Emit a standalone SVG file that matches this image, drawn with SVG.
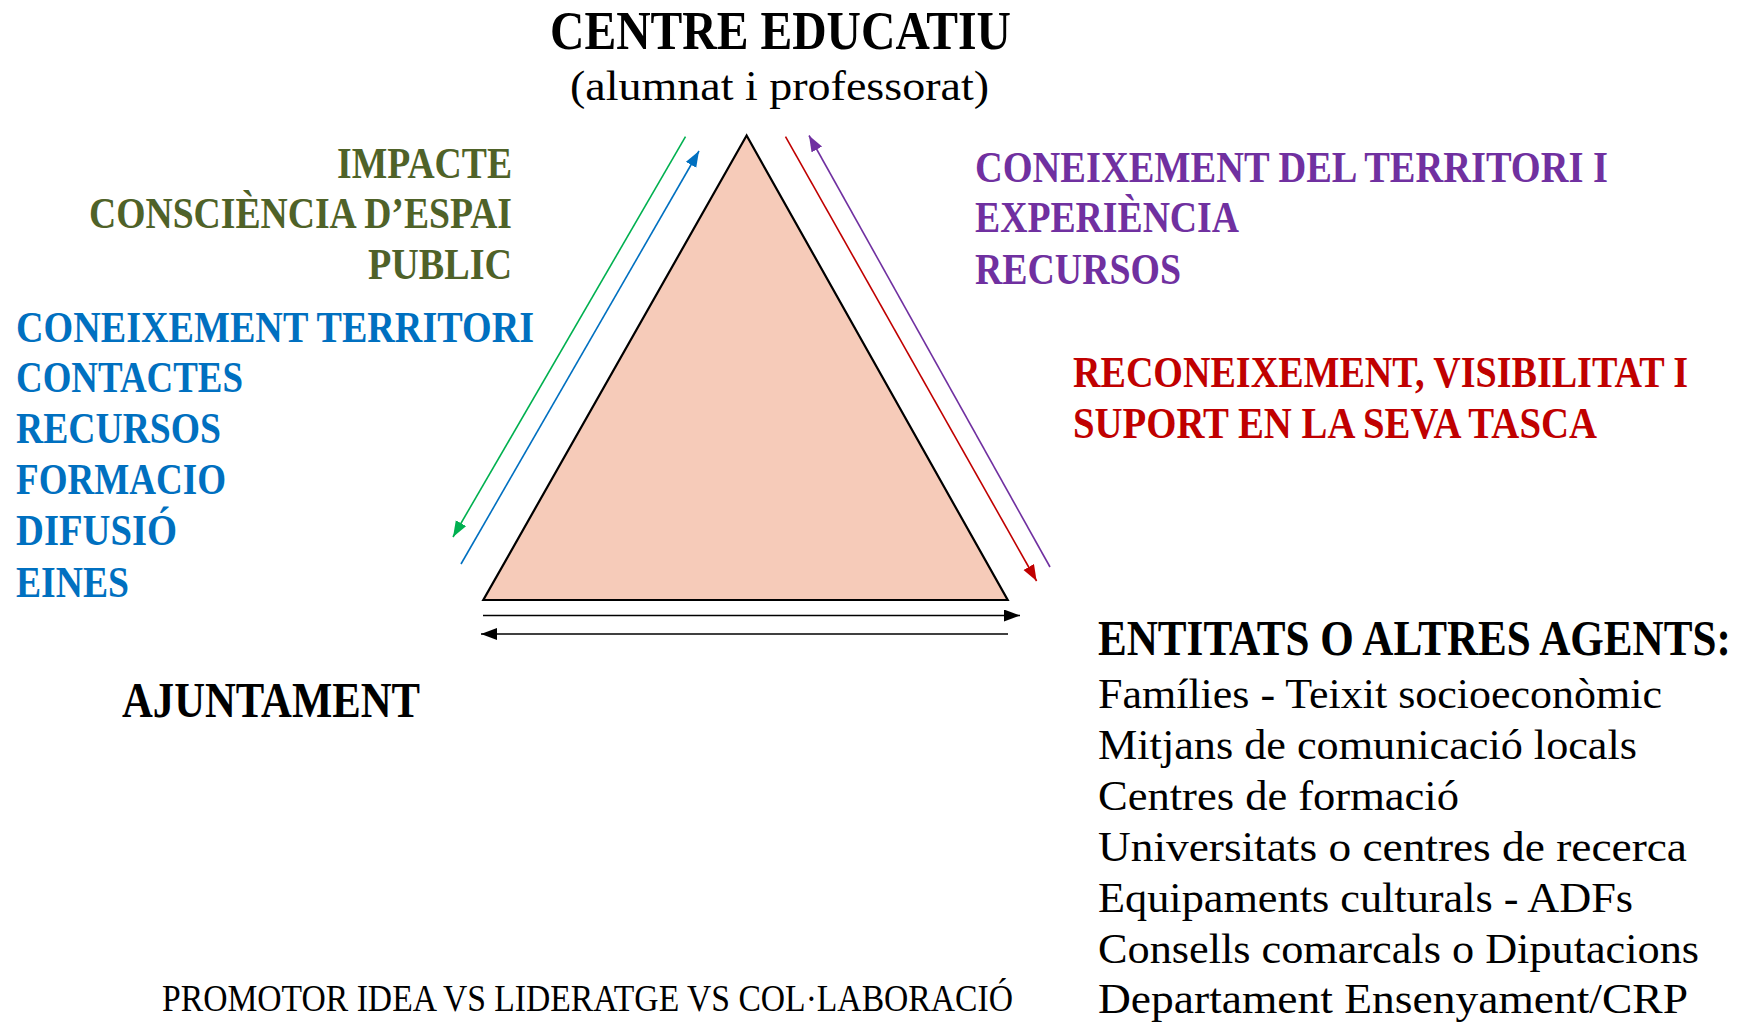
<svg xmlns="http://www.w3.org/2000/svg" width="1742" height="1022" viewBox="0 0 1742 1022">
<defs>
<style>
text{font-family:"Liberation Serif","DejaVu Serif",serif;}
.b{font-weight:bold;}
.title{font-size:54px;fill:#000;}
.sub{font-size:42px;fill:#000;}
.grn{font-size:44px;fill:#4F6228;font-weight:bold;}
.blu{font-size:44px;fill:#0070C0;font-weight:bold;}
.pur{font-size:44px;fill:#7030A0;font-weight:bold;}
.red{font-size:44px;fill:#C00000;font-weight:bold;}
.head{font-size:50px;fill:#000;font-weight:bold;}
.lst{font-size:42px;fill:#000;}
.foot{font-size:38px;fill:#000;}
.ln{fill:none;stroke-width:1.6;}
</style>
<marker id="mGreen" markerUnits="userSpaceOnUse" markerWidth="20" markerHeight="16" refX="16" refY="6" orient="auto"><path d="M0,0 L16,6 L0,12 z" fill="#00B050"/></marker>
<marker id="mBlue" markerUnits="userSpaceOnUse" markerWidth="20" markerHeight="16" refX="16" refY="6" orient="auto"><path d="M0,0 L16,6 L0,12 z" fill="#0070C0"/></marker>
<marker id="mRed" markerUnits="userSpaceOnUse" markerWidth="20" markerHeight="16" refX="16" refY="6" orient="auto"><path d="M0,0 L16,6 L0,12 z" fill="#C00000"/></marker>
<marker id="mPur" markerUnits="userSpaceOnUse" markerWidth="20" markerHeight="16" refX="16" refY="6" orient="auto"><path d="M0,0 L16,6 L0,12 z" fill="#7030A0"/></marker>
<marker id="mBlk" markerUnits="userSpaceOnUse" markerWidth="20" markerHeight="16" refX="16" refY="6" orient="auto"><path d="M0,0 L16,6 L0,12 z" fill="#000"/></marker>
</defs>
<rect x="0" y="0" width="1742" height="1022" fill="#fff"/>

<g id="triangle">
<polygon points="746.6,135.5 483.3,600 1007.7,600" fill="#F6CBB9" stroke="#000" stroke-width="2.2" stroke-linejoin="miter"/>
</g>

<g id="connectors">
<line class="ln" x1="685.5" y1="136.7" x2="453" y2="537" stroke="#00B050" marker-end="url(#mGreen)"/>
<line class="ln" x1="461" y1="564" x2="699" y2="151" stroke="#0070C0" marker-end="url(#mBlue)"/>
<line class="ln" x1="785.5" y1="136.7" x2="1036.6" y2="581" stroke="#C00000" marker-end="url(#mRed)"/>
<line class="ln" x1="1050" y1="567" x2="809" y2="135.5" stroke="#7030A0" marker-end="url(#mPur)"/>
<line class="ln" x1="483" y1="615.5" x2="1020" y2="615.5" stroke="#000" stroke-width="2.2" marker-end="url(#mBlk)"/>
<line class="ln" x1="1008" y1="634" x2="481" y2="634" stroke="#000" stroke-width="2.2" marker-end="url(#mBlk)"/>
</g>

<g id="centre-educatiu">
<text class="title b" x="550" y="49" textLength="461" lengthAdjust="spacingAndGlyphs">CENTRE EDUCATIU</text>
<text class="sub" x="570" y="100" textLength="419" lengthAdjust="spacingAndGlyphs">(alumnat i professorat)</text>
</g>

<g id="impacte">
<text class="grn" x="337" y="178" textLength="175" lengthAdjust="spacingAndGlyphs">IMPACTE</text>
<text class="grn" x="89" y="228" textLength="423" lengthAdjust="spacingAndGlyphs">CONSCIÈNCIA D’ESPAI</text>
<text class="grn" x="368" y="279" textLength="144" lengthAdjust="spacingAndGlyphs">PUBLIC</text>
</g>

<g id="ajuntament-aporta">
<text class="blu" x="16" y="342" textLength="518" lengthAdjust="spacingAndGlyphs">CONEIXEMENT TERRITORI</text>
<text class="blu" x="16" y="392" textLength="227" lengthAdjust="spacingAndGlyphs">CONTACTES</text>
<text class="blu" x="16" y="443" textLength="205" lengthAdjust="spacingAndGlyphs">RECURSOS</text>
<text class="blu" x="16" y="494" textLength="210" lengthAdjust="spacingAndGlyphs">FORMACIO</text>
<text class="blu" x="16" y="545" textLength="161" lengthAdjust="spacingAndGlyphs">DIFUSIÓ</text>
<text class="blu" x="16" y="597" textLength="113" lengthAdjust="spacingAndGlyphs">EINES</text>
</g>

<g id="entitats-aporten">
<text class="pur" x="975" y="182" textLength="633" lengthAdjust="spacingAndGlyphs">CONEIXEMENT DEL TERRITORI I</text>
<text class="pur" x="975" y="232" textLength="264" lengthAdjust="spacingAndGlyphs">EXPERIÈNCIA</text>
<text class="pur" x="975" y="284" textLength="206" lengthAdjust="spacingAndGlyphs">RECURSOS</text>
</g>

<g id="reconeixement">
<text class="red" transform="translate(1073,387) scale(0.8,1)" x="0" y="0" textLength="769" lengthAdjust="spacingAndGlyphs">RECONEIXEMENT, VISIBILITAT I</text>
<text class="red" x="1073" y="438" textLength="524" lengthAdjust="spacingAndGlyphs">SUPORT EN LA SEVA TASCA</text>
</g>

<g id="ajuntament">
<text class="head" x="122" y="717" textLength="298" lengthAdjust="spacingAndGlyphs">AJUNTAMENT</text>
</g>

<g id="entitats">
<text class="head" transform="translate(1098,655) scale(0.8,1)" x="0" y="0" textLength="791" lengthAdjust="spacingAndGlyphs">ENTITATS O ALTRES AGENTS:</text>
<text class="lst" x="1098" y="708" textLength="564" lengthAdjust="spacingAndGlyphs">Famílies - Teixit socioeconòmic</text>
<text class="lst" x="1098" y="759" textLength="539" lengthAdjust="spacingAndGlyphs">Mitjans de comunicació locals</text>
<text class="lst" x="1098" y="810" textLength="361" lengthAdjust="spacingAndGlyphs">Centres de formació</text>
<text class="lst" x="1098" y="861" textLength="589" lengthAdjust="spacingAndGlyphs">Universitats o centres de recerca</text>
<text class="lst" x="1098" y="912" textLength="535" lengthAdjust="spacingAndGlyphs">Equipaments culturals - ADFs</text>
<text class="lst" x="1098" y="963" textLength="601" lengthAdjust="spacingAndGlyphs">Consells comarcals o Diputacions</text>
<text class="lst" x="1098" y="1013" textLength="590" lengthAdjust="spacingAndGlyphs">Departament Ensenyament/CRP</text>
</g>

<g id="footer">
<text class="foot" x="162" y="1011" textLength="851" lengthAdjust="spacingAndGlyphs">PROMOTOR IDEA VS LIDERATGE VS COL·LABORACIÓ</text>
</g>
</svg>
